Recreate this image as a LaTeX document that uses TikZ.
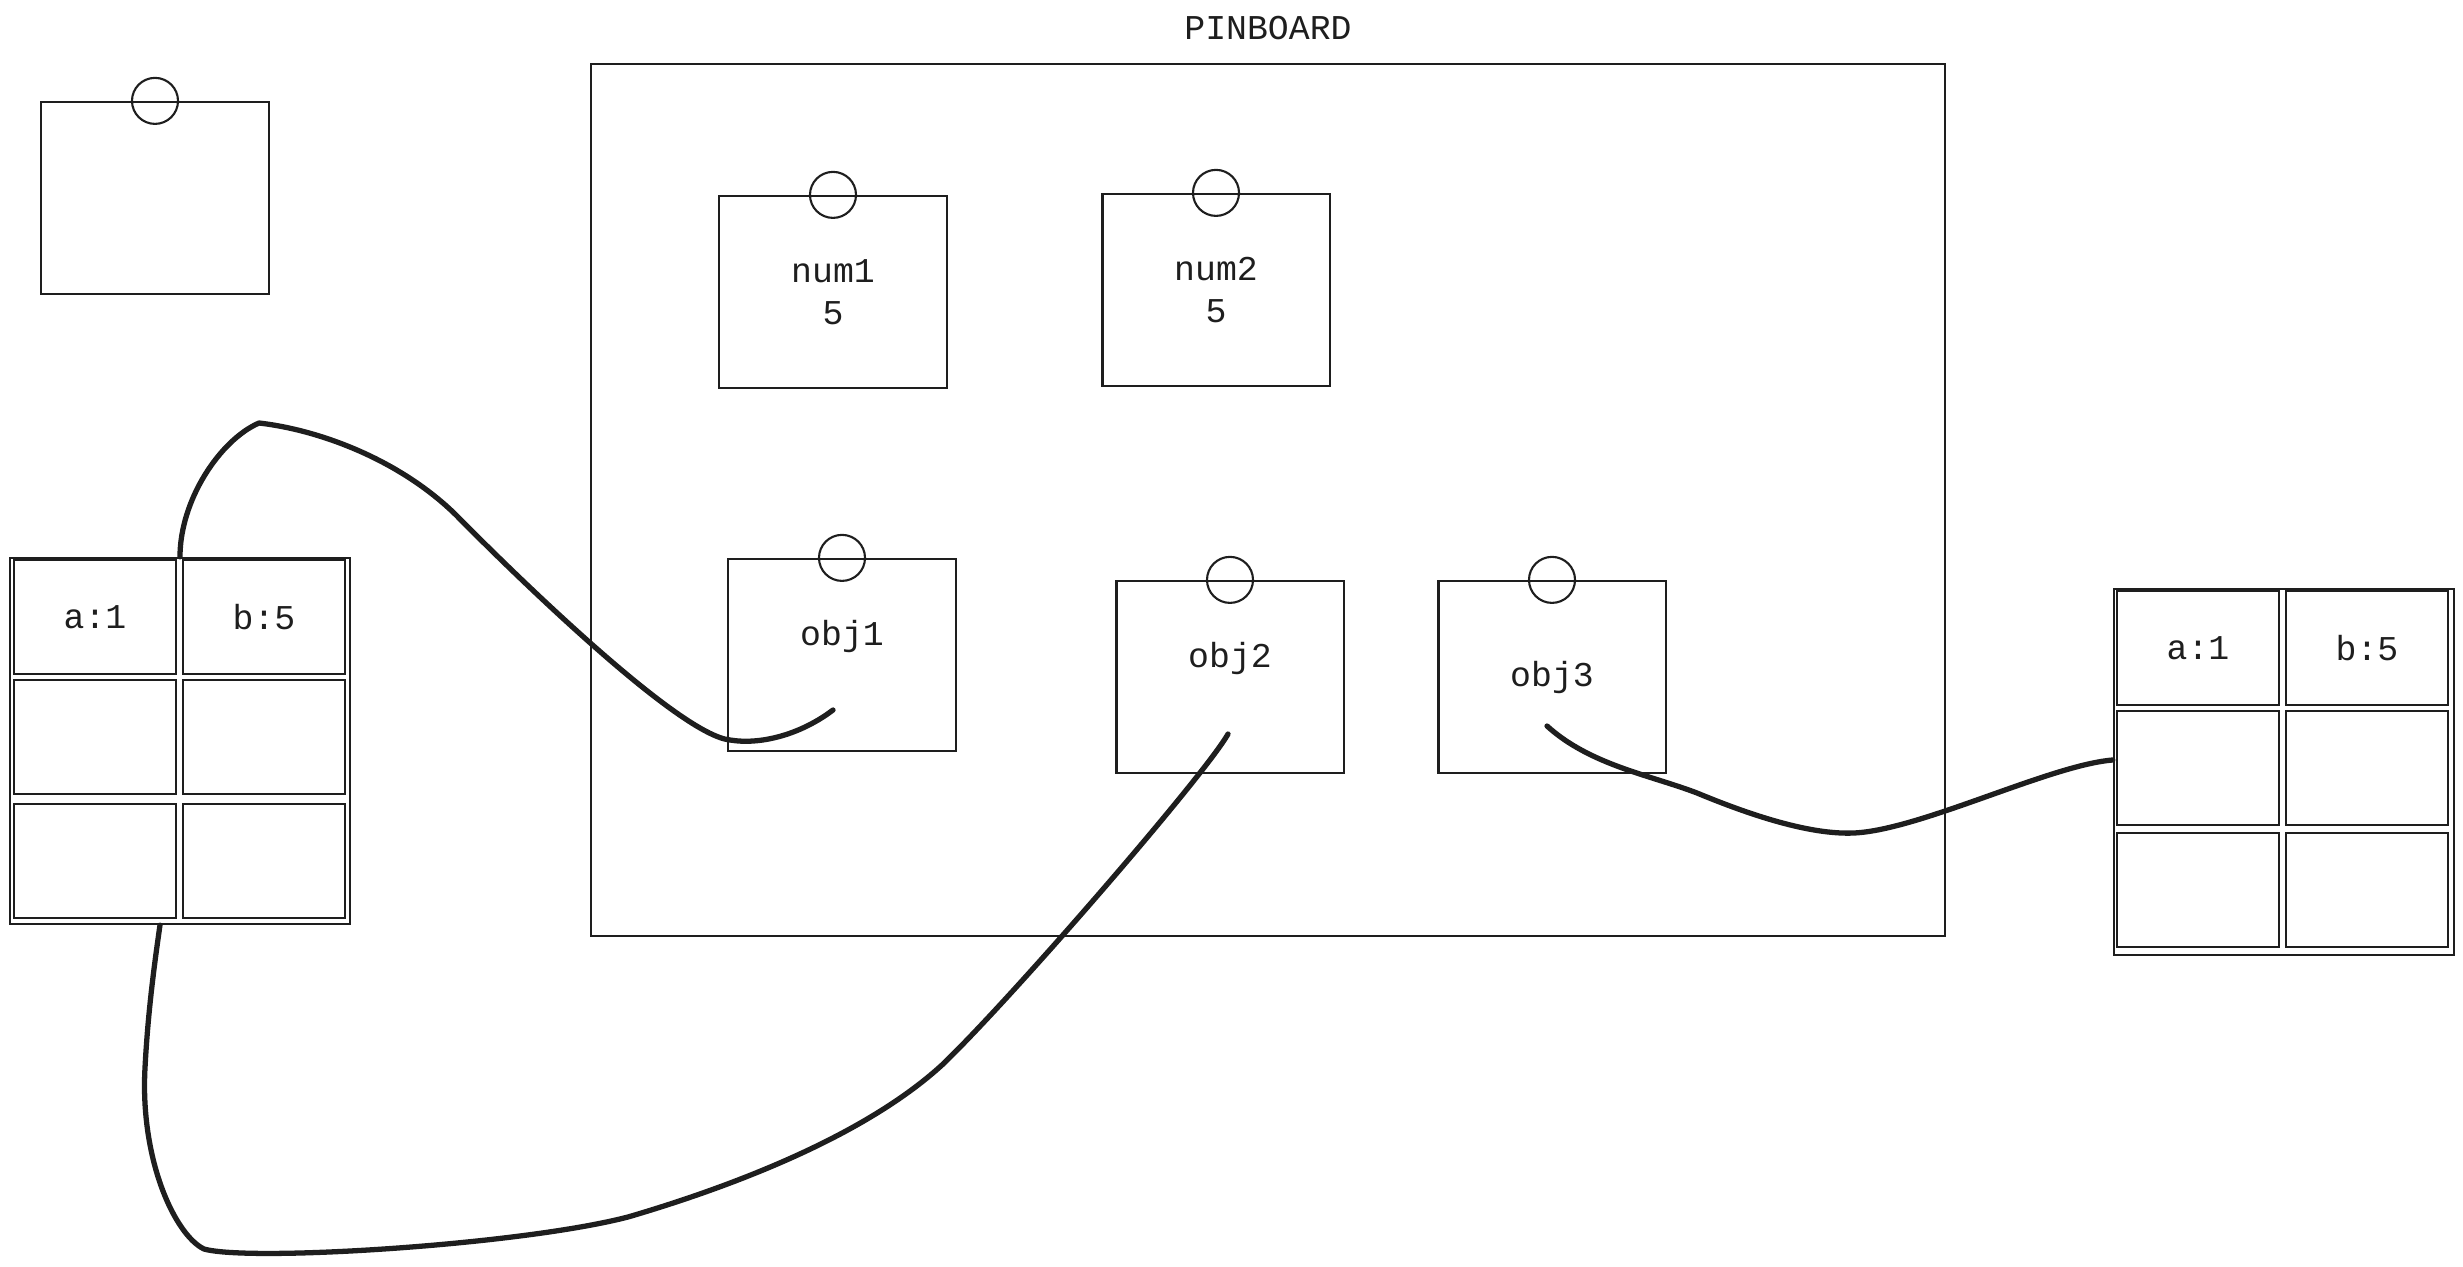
\documentclass[tikz,border=0pt]{standalone}
\usepackage{fontspec}
\setmonofont{Liberation Mono}
\usetikzlibrary{positioning}
\definecolor{ink}{HTML}{1E1E1E}

\begin{document}
\begin{tikzpicture}[x=0.01cm, y=-0.01cm,
        every node/.style={font=\ttfamily\fontsize{9.9}{12}\selectfont, text=ink},
        board/.style={draw=ink, line width=0.6pt},
        note/.style={draw=ink, line width=0.6pt, minimum width=2.27cm, minimum height=1.92cm, align=center},
        pin/.style={draw=ink, line width=0.6pt, circle, minimum size=0.46cm, inner sep=0pt},
        cell/.style={draw=ink, line width=0.6pt, minimum width=1.62cm, minimum height=1.14cm},
        wire/.style={draw=ink, line width=1.5pt, line cap=round, line join=round}]
        \useasboundingbox (0,0) rectangle (2463,1267);

        % Pinboard
        \node[board, minimum width=13.53cm, minimum height=8.72cm] (pinboard) at (1268,500) {};
        \node[above=0.1cm of pinboard] (title) {PINBOARD};

        % Loose note
        \node[note] (loose) at (155,198) {};
        \node[pin] (loosepin) at (loose.north) {};

        % Notes on the board
        \node[note] (num1) at (833,292) {num1\\5};
        \node[pin] (num1pin) at (num1.north) {};
        \node[note] (num2) at (1216,290) {num2\\5};
        \node[pin] (num2pin) at (num2.north) {};
        \node[note, text depth=0.45cm] (obj1) at (842,655) {obj1};
        \node[pin] (obj1pin) at (obj1.north) {};
        \node[note, text depth=0.45cm] (obj2) at (1230,677) {obj2};
        \node[pin] (obj2pin) at (obj2.north) {};
        \node[note] (obj3) at (1552,677) {obj3};
        \node[pin] (obj3pin) at (obj3.north) {};

        % Left object
        \node[board, minimum width=3.39cm, minimum height=3.66cm] (ltab) at (180,741) {};
        \node[cell] (la1) at (95,617) {a:1};
        \node[cell] (lb1) at (264,617) {b:5};
        \node[cell] (la2) at (95,737) {};
        \node[cell] (lb2) at (264,737) {};
        \node[cell] (la3) at (95,861) {};
        \node[cell] (lb3) at (264,861) {};

        % Right object
        \node[board, minimum width=3.40cm, minimum height=3.66cm] (rtab) at (2284,772) {};
        \node[cell] (ra1) at (2198,648) {a:1};
        \node[cell] (rb1) at (2367,648) {b:5};
        \node[cell] (ra2) at (2198,768) {};
        \node[cell] (rb2) at (2367,768) {};
        \node[cell] (ra3) at (2198,890) {};
        \node[cell] (rb3) at (2367,890) {};

        % Strings from the notes
        \coordinate (obj1end) at (833,710);
        \coordinate (obj2end) at (1228,734);
        \coordinate (obj3end) at (1547,726);

        \draw[wire] (obj1end) .. controls (800,735) and (760,745) .. (730,740)
            .. controls (680,735) and (520,580) .. (456,515)
            .. controls (400,460) and (320,430) .. (259,423)
            .. controls (220,440) and (180,500) .. (ltab.north);  % obj1 -> left
        \draw[wire] (obj2end) .. controls (1205,775) and (1010,1000) .. (942,1065)
            .. controls (860,1140) and (720,1190) .. (628,1217)
            .. controls (520,1245) and (250,1262) .. (204,1249)
            .. controls (175,1235) and (140,1160) .. (145,1068)
            .. controls (148,1010) and (155,960) .. ([xshift=-0.2cm]ltab.south);  % obj2 -> left
        \draw[wire] (obj3end) .. controls (1590,765) and (1650,775) .. (1697,793)
            .. controls (1750,815) and (1810,835) .. (1854,833)
            .. controls (1920,830) and (2050,765) .. ([yshift=0.12cm]rtab.west);  % obj3 -> right
\end{tikzpicture}
\end{document}
